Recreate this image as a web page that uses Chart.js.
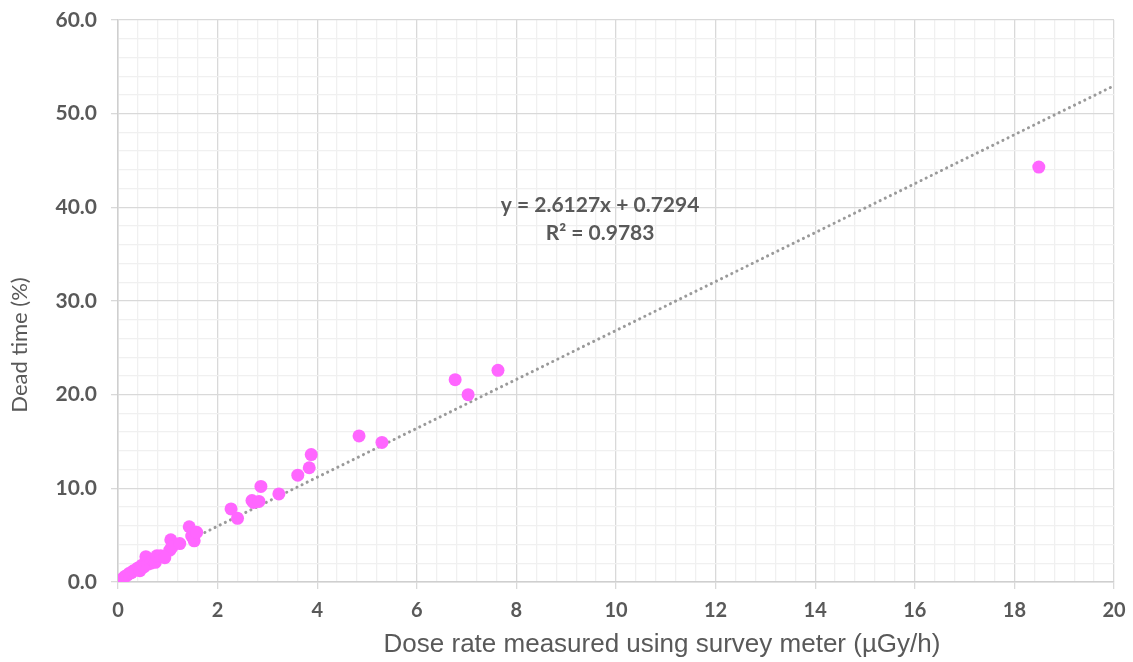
<!DOCTYPE html>
<html>
<head>
<meta charset="utf-8">
<script src="https://cdn.jsdelivr.net/npm/chart.js@4/dist/chart.umd.min.js"></script>
<style>
  html, body { margin: 0; padding: 0; background: #fff; }
  #wrap { width: 1133px; height: 662px; }
</style>
</head>
<body>
<div id="wrap"><canvas id="chart" width="1133" height="662"></canvas></div>
<script>
// dose rate (uGy/h) vs dead time (%)
const doseRate = [0.10, 0.14, 0.18, 0.22, 0.27, 0.31, 0.36, 0.40, 0.44, 0.48,
  0.52, 0.56, 0.60, 0.66, 0.70, 0.75, 0.78, 0.86, 0.94, 1.04,
  1.06, 1.08, 1.24, 1.43, 1.48, 1.53, 1.58, 2.27, 2.40, 2.69,
  2.72, 2.83, 2.87, 3.23, 3.61, 3.84, 3.88, 4.84, 5.30, 6.77,
  7.03, 7.63, 18.49];
const deadTime = [0.4, 0.6, 0.7, 0.9, 1.0, 1.2, 1.3, 1.5, 1.2, 1.8,
  1.6, 2.7, 1.9, 2.0, 2.3, 2.1, 2.8, 2.8, 2.6, 3.4,
  4.5, 3.7, 4.1, 5.9, 4.9, 4.4, 5.3, 7.8, 6.8, 8.7,
  8.5, 8.6, 10.2, 9.4, 11.4, 12.2, 13.6, 15.6, 14.9, 21.6,
  20.0, 22.6, 44.3];

// linear trendline as reported on the chart
const slope = 2.6127;
const intercept = 0.7294;
const rSquared = 0.9783;
const trendRange = [0.1, 20];
const labelAt = { x: 9.68, y: 40.2 };

const xTitle = "Dose rate measured using survey meter (\u00b5Gy/h)";
const yTitle = "Dead time (%)";

const textColor = '#595959';
const majorGrid = '#d9d9d9';
const minorGrid = '#f0f0f0';

const isMult = (v, m) => Math.abs(v / m - Math.round(v / m)) < 1e-6;

const points = doseRate.map((x, i) => ({ x: x, y: deadTime[i] }));
const trend = trendRange.map(x => ({ x: x, y: slope * x + intercept }));

// equation text and the axis titles (titles sit off-centre in the original)
const chartText = {
  id: 'chartText',
  afterDatasetsDraw(chart) {
    const ctx = chart.ctx;
    const px = chart.scales.x.getPixelForValue(labelAt.x);
    const py = chart.scales.y.getPixelForValue(labelAt.y);
    ctx.save();
    ctx.fillStyle = textColor;
    ctx.textAlign = 'center';
    ctx.textBaseline = 'middle';
    ctx.font = 'bold 21px Lato, "Open Sans", sans-serif';
    ctx.fillText(`y = ${slope.toFixed(4)}x + ${intercept.toFixed(4)}`, px, py);
    ctx.fillText(`R\u00b2 = ${rSquared.toFixed(4)}`, px, py + 28);

    ctx.font = '26px "Liberation Sans", Arial, sans-serif';
    ctx.fillText(xTitle, 662, 645);

    ctx.translate(20, 345);
    ctx.rotate(-Math.PI / 2);
    ctx.font = '22px Lato, "Open Sans", sans-serif';
    ctx.fillText(yTitle, 0, 0);
    ctx.restore();
  }
};

new Chart(document.getElementById('chart').getContext('2d'), {
  type: 'scatter',
  data: {
    datasets: [
      {
        label: 'Data',
        data: points,
        backgroundColor: '#ff66ff',
        borderColor: '#ff66ff',
        pointRadius: 6.5,
        pointHoverRadius: 6.5,
        borderWidth: 0,
        order: 1,
      },
      {
        label: 'Linear trend',
        type: 'line',
        data: trend,
        borderColor: '#9a9a9a',
        borderWidth: 3,
        borderDash: [0.1, 5.6],
        borderCapStyle: 'round',
        pointRadius: 0,
        fill: false,
        order: 2,
      }
    ]
  },
  options: {
    responsive: false,
    animation: false,
    layout: { padding: { top: 20, right: 19, left: 0, bottom: 0 } },
    plugins: {
      legend: { display: false },
      tooltip: { enabled: false },
    },
    scales: {
      x: {
        type: 'linear',
        min: 0,
        max: 20,
        afterFit(scale) {
          scale.height = 80;
          scale.paddingLeft = 0;
          scale.paddingRight = 0;
        },
        ticks: {
          stepSize: 0.4,
          autoSkip: false,
          maxRotation: 0,
          padding: 10,
          color: textColor,
          font: { family: 'Lato, "Open Sans", sans-serif', size: 20, weight: 'bold' },
          callback: v => isMult(v, 2) ? String(Math.round(v)) : '',
        },
        grid: {
          color: c => isMult(c.tick.value, 2) ? majorGrid : minorGrid,
          tickColor: c => isMult(c.tick.value, 2) ? majorGrid : 'rgba(0,0,0,0)',
          tickLength: 7,
          lineWidth: 1.3,
        },
        border: { color: '#cfcfcf', width: 1.5 },
      },
      y: {
        type: 'linear',
        min: 0,
        max: 60,
        afterFit(scale) {
          scale.width = 118;
          scale.paddingTop = 0;
          scale.paddingBottom = 0;
        },
        ticks: {
          stepSize: 2,
          autoSkip: false,
          padding: 14,
          color: textColor,
          font: { family: 'Lato, "Open Sans", sans-serif', size: 21, weight: 'bold' },
          callback: v => isMult(v, 10) ? v.toFixed(1) : '',
        },
        grid: {
          color: c => isMult(c.tick.value, 10) ? majorGrid : minorGrid,
          tickColor: c => isMult(c.tick.value, 10) ? majorGrid : 'rgba(0,0,0,0)',
          tickLength: 7,
          lineWidth: 1.3,
        },
        border: { color: '#cfcfcf', width: 1.5 },
      },
    },
  },
  plugins: [chartText],
});
</script>
</body>
</html>
